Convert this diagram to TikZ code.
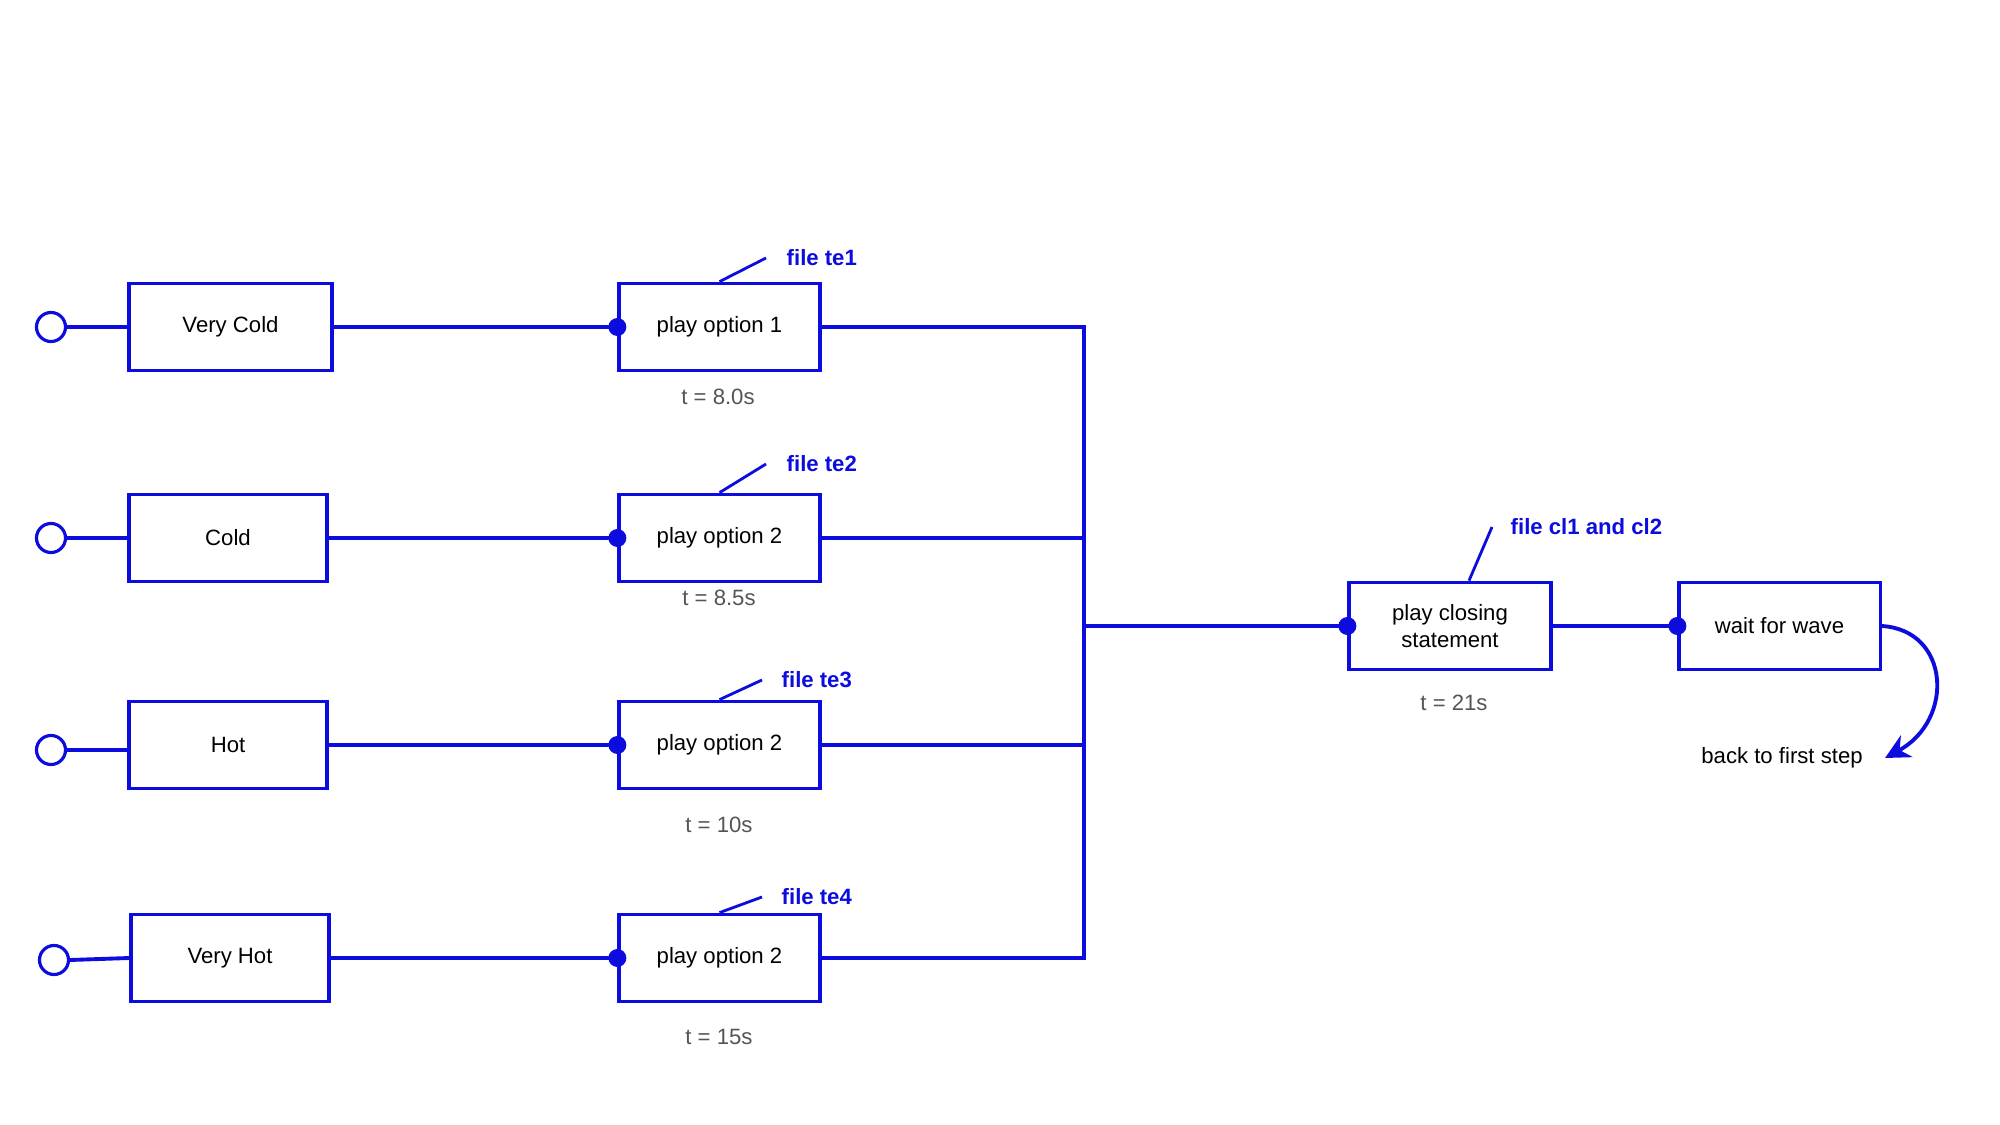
\documentclass[tikz,border=0pt]{standalone}
\usepackage{fontspec}
\setmainfont{Liberation Sans}
\usetikzlibrary{arrows.meta}
\definecolor{dblue}{RGB}{12,12,222}
\definecolor{tgray}{RGB}{85,85,85}
\begin{document}
\begin{tikzpicture}[x=0.01cm,y=-0.01cm,
  box/.style={draw=dblue,line width=0.9pt,minimum height=0.875cm,inner sep=0pt,font=\fontsize{6.3}{7.7}\selectfont,align=center},
  wire/.style={draw=dblue,line width=1.1pt},
  port/.style={circle,draw=dblue,line width=0.9pt,minimum size=0.29cm,inner sep=0pt},
  dot/.style={circle,fill=dblue,minimum size=0.18cm,inner sep=0pt},
  flabel/.style={text=dblue,font=\bfseries\fontsize{6.3}{7.7}\selectfont,anchor=west,inner sep=0pt},
  tlabel/.style={text=tgray,font=\fontsize{6.3}{7.7}\selectfont,inner sep=0pt},
  lead/.style={draw=dblue,line width=0.8pt}]
\useasboundingbox (0,0) rectangle (2000,1125);

% left inputs
\node[box,minimum width=2.03cm] (vc) at (230.5,327) {Very Cold};
\node[box,minimum width=1.98cm] (c) at (228,538) {Cold};
\node[box,minimum width=1.98cm] (h) at (228,745) {Hot};
\node[box,minimum width=1.98cm] (vh) at (230,958) {Very Hot};

\node[port] (c1) at (51,327) {};
\node[port] (c2) at (51,538) {};
\node[port] (c3) at (51,750) {};
\node[port] (c4) at (54,960) {};

% play boxes
\node[box,minimum width=2.01cm] (p1) at (719.5,327) {play option 1};
\node[box,minimum width=2.01cm] (p2) at (719.5,538) {play option 2};
\node[box,minimum width=2.01cm] (p3) at (719.5,745) {play option 2};
\node[box,minimum width=2.01cm] (p4) at (719.5,958) {play option 2};

\node[box,minimum width=2.02cm] (pc) at (1450,626) {play closing\\statement};
\node[box,minimum width=2.01cm] (ww) at (1779.5,626) {wait for wave};

% bus coordinates
\coordinate (b1) at (1084,327);
\coordinate (b2) at (1084,538);
\coordinate (b3) at (1084,745);
\coordinate (b4) at (1084,958);
\coordinate (bm) at (1084,626);

% connectors left
\draw[wire] (c1.east) -- (vc.west);
\draw[wire] (c2.east) -- (c.west);
\draw[wire] (c3.east) -- (h.west |- c3.east);
\draw[wire] (c4.east) -- (vh.west);

\draw[wire] (vc.east) -- (p1.west);
\draw[wire] (c.east) -- (p2.west);
\draw[wire] (h.east) -- (p3.west);
\draw[wire] (vh.east) -- (p4.west);

\node[dot] (d1) at (p1.west) {};
\node[dot] (d2) at (p2.west) {};
\node[dot] (d3) at (p3.west) {};
\node[dot] (d4) at (p4.west) {};

% bus
\draw[wire] (p1.east) -- (b1) -- (b4) -- (p4.east);
\draw[wire] (p2.east) -- (b2);
\draw[wire] (p3.east) -- (b3);
\draw[wire] (bm) -- (pc.west);
\draw[wire] (pc.east) -- (ww.west);
\node[dot] (d5) at (pc.west) {};
\node[dot] (d6) at (ww.west) {};

% file labels
\node[flabel] (f1) at (786,258) {file te1};
\node[flabel] (f2) at (786,464) {file te2};
\node[flabel] (f3) at (781,680) {file te3};
\node[flabel] (f4) at (781,897) {file te4};
\node[flabel] (f5) at (1510,527) {file cl1 and cl2};
\coordinate (l1) at (766,258);
\coordinate (l2) at (766,464);
\coordinate (l3) at (762,680);
\coordinate (l4) at (762,897);
\coordinate (l5) at (1492,527);
\draw[lead] (p1.north) -- (l1);
\draw[lead] (p2.north) -- (l2);
\draw[lead] (p3.north) -- (l3);
\draw[lead] (p4.north) -- (l4);
\draw[lead] ([xshift=0.19cm]pc.north) -- (l5);

% time labels
\node[tlabel] (t1) at (718,397) {t = 8.0s};
\node[tlabel] (t2) at (719,598) {t = 8.5s};
\node[tlabel] (t3) at (719,825) {t = 10s};
\node[tlabel] (t4) at (719,1037) {t = 15s};
\node[tlabel] (t5) at (1454,703) {t = 21s};

% loop back
\node[font=\fontsize{6.3}{7.7}\selectfont,inner sep=0pt] (back) at (1782,758) {back to first step};
\coordinate (bk) at (1885,758);
\draw[wire,-{Stealth[length=7pt,width=7pt]}] (ww.east) .. controls (1950,630) and (1955,720) .. (bk);
\end{tikzpicture}
\end{document}
